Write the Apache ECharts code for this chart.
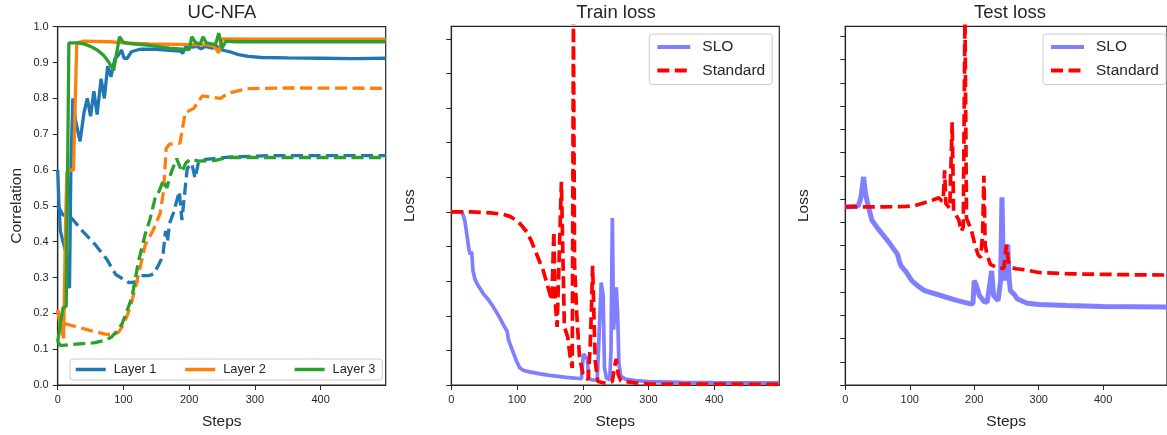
<!DOCTYPE html>
<html>
<head>
<meta charset="utf-8">
<script src="https://cdn.jsdelivr.net/npm/echarts@6/dist/echarts.min.js"></script>
<style>
  html, body { margin: 0; padding: 0; background: #fff; }
  #chart { width: 1167px; height: 435px; }
</style>
</head>
<body>
<div id="chart"></div>
<script>
// panel titles / axis names
var titles = ['UC-NFA', 'Train loss', 'Test loss'];
var stepTicks = [0, 100, 200, 300, 400];

// UC-NFA correlation, [step, value]
var layer1Solid = [[0,0.60],[2,0.50],[4,0.43],[8,0.40],[14,0.36],[18,0.27],[20,0.60],[23,0.80],[27,0.74],[34,0.68],[40,0.76],[45,0.80],[50,0.75],[55,0.82],[60,0.755],[66,0.855],[71,0.80],[76,0.89],[81,0.86],[87,0.91],[92,0.92],[97,0.935],[101,0.912],[106,0.912],[112,0.93],[125,0.937],[150,0.937],[175,0.933],[187,0.932],[190,0.925],[195,0.945],[205,0.943],[212,0.945],[218,0.938],[225,0.945],[235,0.94],[242,0.945],[250,0.935],[262,0.93],[275,0.922],[290,0.917],[310,0.914],[350,0.913],[400,0.912],[450,0.911],[499,0.912]];
var layer2Solid = [[0,0.21],[4,0.17],[9,0.13],[12,0.45],[14,0.595],[20,0.60],[24,0.60],[29,0.955],[40,0.960],[80,0.958],[100,0.955],[140,0.952],[200,0.950],[228,0.949],[238,0.945],[245,0.927],[250,0.966],[300,0.965],[499,0.965]];
var layer3Solid = [[0,0.12],[4,0.17],[8,0.215],[13,0.22],[17,0.955],[30,0.955],[40,0.952],[50,0.945],[60,0.935],[70,0.92],[78,0.90],[85,0.878],[94,0.972],[100,0.956],[110,0.953],[140,0.948],[170,0.94],[200,0.936],[204,0.972],[210,0.955],[217,0.952],[221,0.972],[226,0.955],[240,0.95],[245,0.982],[250,0.94],[256,0.96],[270,0.958],[499,0.958]];
var layer1Dashed = [[0,0.50],[8,0.475],[21,0.466],[40,0.425],[57,0.392],[75,0.35],[88,0.309],[100,0.295],[108,0.286],[120,0.288],[127,0.305],[138,0.305],[146,0.31],[154,0.337],[160,0.36],[164,0.43],[167,0.40],[170,0.45],[176,0.48],[182,0.52],[185,0.54],[189,0.46],[197,0.604],[204,0.618],[209,0.577],[214,0.62],[225,0.63],[260,0.636],[320,0.64],[499,0.64]];
var layer2Dashed = [[0,0.21],[3,0.175],[11,0.171],[30,0.162],[50,0.152],[72,0.142],[86,0.14],[93,0.148],[100,0.168],[107,0.2],[113,0.235],[120,0.285],[133,0.39],[146,0.435],[156,0.48],[161,0.54],[165,0.66],[170,0.672],[186,0.675],[194,0.76],[207,0.772],[220,0.807],[248,0.80],[260,0.815],[288,0.827],[350,0.829],[499,0.828]];
var layer3Dashed = [[0,0.12],[4,0.11],[20,0.113],[57,0.118],[72,0.125],[82,0.134],[90,0.15],[98,0.171],[106,0.21],[113,0.245],[123,0.346],[133,0.42],[140,0.46],[148,0.52],[154,0.54],[161,0.572],[166,0.55],[173,0.595],[181,0.632],[189,0.595],[195,0.62],[202,0.63],[215,0.625],[240,0.627],[258,0.635],[499,0.635]];

// train loss (tick units)
var trainSLO = [[0,5.0],[16,5.0],[19,4.85],[21,4.7],[24,4.3],[27,3.9],[29,3.77],[31,3.85],[33,3.3],[36,3.05],[40,2.9],[49,2.63],[57,2.45],[64,2.25],[72,2.0],[79,1.75],[85,1.55],[87,1.3],[89,1.2],[94,0.95],[99,0.7],[104,0.5],[110,0.42],[119,0.38],[135,0.32],[150,0.28],[175,0.22],[198,0.18],[201,0.9],[204,0.85],[207,0.75],[209,0.2],[214,0.15],[222,0.14],[225,1.5],[228,2.96],[231,2.6],[233,0.5],[236,0.2],[241,0.15],[243,1.0],[245,4.82],[247,1.6],[249,2.2],[251,2.82],[253,2.1],[255,0.6],[258,0.25],[265,0.17],[280,0.13],[300,0.1],[350,0.08],[400,0.07],[499,0.06]];
var trainStandard = [[0,5.0],[30,5.0],[60,4.97],[79,4.93],[89,4.87],[97,4.78],[105,4.65],[115,4.42],[122,4.15],[130,3.77],[140,3.3],[150,2.63],[153,2.44],[156,4.44],[158,2.44],[161,1.68],[167.5,5.87],[172,1.68],[177,1.39],[181,0.8],[184,0.49],[185.8,10.6],[187.5,3.49],[191,2.0],[195,0.82],[200,0.34],[208,0.15],[211,1.0],[213,2.06],[215,3.44],[217,2.0],[219,0.7],[223,0.1],[235,0.05],[245,0.1],[248,0.5],[251,0.75],[254,0.3],[258,0.12],[280,0.06],[300,0.03],[499,0.02]];

// test loss (tick units)
var testSLO = [[0,7.66],[20,7.7],[24,8.03],[28.4,8.95],[31,8.3],[34,7.89],[41,7.1],[50,6.75],[66,6.2],[81,5.62],[84,5.3],[87,5.1],[95,4.84],[103,4.49],[113,4.25],[123,4.06],[148,3.85],[174,3.63],[194,3.49],[198,3.5],[200,4.49],[203,4.3],[208,3.85],[215,3.6],[220,3.55],[225,4.5],[227,4.91],[230,3.85],[237,3.63],[241,4.5],[243,8.07],[245,5.2],[248,4.5],[252,6.04],[254,4.6],[256,4.06],[262,3.9],[267,3.7],[282,3.52],[300,3.46],[343,3.42],[400,3.38],[499,3.35]];
var testStandard = [[0,7.66],[60,7.66],[95,7.68],[108,7.72],[120,7.82],[135,7.95],[145,8.05],[150,7.9],[152,8.0],[154,9.23],[156,7.8],[159,7.74],[162,7.6],[165.8,11.3],[168,7.46],[172,7.3],[176,7.1],[180,6.61],[183,6.8],[185.6,16],[188,7.18],[192,6.9],[196,6.61],[201,6.04],[206,5.6],[210,5.48],[213,6.5],[215,9.0],[217,6.0],[220,5.6],[225,5.19],[235,5.05],[246,5.02],[250,6.04],[253,5.3],[258,5.05],[265,5.0],[280,4.95],[300,4.84],[350,4.78],[400,4.76],[450,4.74],[499,4.73]];

var trainTicks = [0,1,2,3,4,5,6,7,8,9,10];
var testTicks = [0,1,2,3,4,5,6,7,8,9,10,11,12,13,14,15];

var FONT = "'Liberation Sans', Arial, sans-serif";
var INK = '#262626';
var DASH = [12, 5.5];

var chart = echarts.init(document.getElementById('chart'), null, { renderer: 'canvas' });

function xAxisFor(i) {
    return {
        type: 'value', gridIndex: i, min: 0, max: 499,
        name: 'Steps', nameLocation: 'middle', nameGap: 29,
        nameTextStyle: { fontSize: 15.5, color: INK, fontFamily: FONT },
        axisLine: { show: true, lineStyle: { color: INK, width: 1.2 } },
        axisTick: { show: true, length: 5, customValues: stepTicks, lineStyle: { color: INK, width: 1 } },
        axisLabel: { customValues: stepTicks, fontSize: 11, color: INK, margin: 9, fontFamily: FONT },
        splitLine: { show: false }
    };
}

function lineSeries(name, data, xi, color, dashed, width) {
    return {
        name: name, type: 'line', xAxisIndex: xi, yAxisIndex: xi,
        data: data, symbol: 'none', clip: true,
        lineStyle: { color: color, width: width || 3.3, type: dashed ? DASH : 'solid', cap: 'butt' },
        itemStyle: { color: color }
    };
}

// legend: only the line, no marker dot
var legendBase = {
    backgroundColor: 'rgba(255,255,255,0.8)', borderColor: '#cccccc', borderWidth: 1, borderRadius: 3,
    itemStyle: { opacity: 0 }
};

var titleStyle = { fontSize: 18.5, fontWeight: 'normal', color: INK, fontFamily: FONT };

var option = {
    animation: false,
    textStyle: { fontFamily: FONT },
    title: [
        { text: titles[0], left: 222, top: 3, textAlign: 'center', padding: 0, textStyle: titleStyle },
        { text: titles[1], left: 616, top: 3, textAlign: 'center', padding: 0, textStyle: titleStyle },
        { text: titles[2], left: 1010, top: 3, textAlign: 'center', padding: 0, textStyle: titleStyle }
    ],
    grid: [
        { left: 57.7, top: 26.7, width: 328, height: 362, show: true, borderColor: INK, borderWidth: 1.2, backgroundColor: 'transparent' },
        { left: 451.3, top: 26.3, width: 328, height: 362.4, show: true, borderColor: INK, borderWidth: 1.2, backgroundColor: 'transparent' },
        { left: 845.3, top: 26.3, width: 330, height: 362.4, show: true, borderColor: INK, borderWidth: 1.2, backgroundColor: 'transparent' }
    ],
    xAxis: [xAxisFor(0), xAxisFor(1), xAxisFor(2)],
    yAxis: [
        {
            type: 'value', gridIndex: 0, min: 0, max: 1, interval: 0.1,
            name: 'Correlation', nameLocation: 'middle', nameGap: 33,
            nameTextStyle: { fontSize: 15.5, color: INK, fontFamily: FONT },
            axisLine: { show: true, lineStyle: { color: INK, width: 1.2 } },
            axisTick: { show: true, length: 5, lineStyle: { color: INK, width: 1 } },
            axisLabel: { fontSize: 11, color: INK, margin: 9, fontFamily: FONT, formatter: function (v) { return v.toFixed(1); } },
            splitLine: { show: false }
        },
        {
            type: 'value', gridIndex: 1, min: 0, max: 10.36,
            name: 'Loss', nameLocation: 'middle', nameGap: 34,
            nameTextStyle: { fontSize: 15.5, color: INK, fontFamily: FONT },
            axisLine: { show: true, lineStyle: { color: INK, width: 1.2 } },
            axisTick: { show: true, length: 5, customValues: trainTicks, lineStyle: { color: INK, width: 1 } },
            axisLabel: { show: false },
            splitLine: { show: false }
        },
        {
            type: 'value', gridIndex: 2, min: 0, max: 15.43,
            name: 'Loss', nameLocation: 'middle', nameGap: 34,
            nameTextStyle: { fontSize: 15.5, color: INK, fontFamily: FONT },
            axisLine: { show: true, lineStyle: { color: INK, width: 1.2 } },
            axisTick: { show: true, length: 5, customValues: testTicks, lineStyle: { color: INK, width: 1 } },
            axisLabel: { show: false },
            splitLine: { show: false }
        }
    ],
    legend: [
        Object.assign({}, legendBase, {
            data: ['Layer 1', 'Layer 2', 'Layer 3'], orient: 'horizontal', left: 70, top: 359,
            padding: [4, 7, 4, 4], itemWidth: 30, itemHeight: 12, itemGap: 27,
            lineStyle: { width: 3.5 },
            textStyle: { fontSize: 12.8, color: INK, fontFamily: FONT, padding: [0, 0, 0, 3] }
        }),
        Object.assign({}, legendBase, {
            data: ['SLO', 'Standard'], orient: 'vertical', left: 649.3, top: 34,
            padding: [5, 7, 6, 6], itemWidth: 33, itemHeight: 14, itemGap: 7.5,
            lineStyle: { width: 4 },
            textStyle: { fontSize: 15.5, color: INK, fontFamily: FONT, padding: [0, 0, 0, 7] }
        }),
        Object.assign({}, legendBase, {
            data: ['SLO', 'Standard'], orient: 'vertical', left: 1043, top: 34,
            padding: [5, 7, 6, 6], itemWidth: 33, itemHeight: 14, itemGap: 7.5,
            lineStyle: { width: 4 },
            textStyle: { fontSize: 15.5, color: INK, fontFamily: FONT, padding: [0, 0, 0, 7] }
        })
    ],
    series: [
        lineSeries('Layer 1', layer1Solid, 0, '#1f77b4', false),
        lineSeries('Layer 1 dashed', layer1Dashed, 0, '#1f77b4', true),
        lineSeries('Layer 2', layer2Solid, 0, '#ff7f0e', false),
        lineSeries('Layer 2 dashed', layer2Dashed, 0, '#ff7f0e', true),
        lineSeries('Layer 3', layer3Solid, 0, '#2ca02c', false),
        lineSeries('Layer 3 dashed', layer3Dashed, 0, '#2ca02c', true),
        lineSeries('SLO', trainSLO, 1, '#7f7fff', false, 3.7),
        lineSeries('Standard', trainStandard, 1, '#ff0000', true, 3.7),
        lineSeries('SLO', testSLO, 2, '#7f7fff', false, 5),
        lineSeries('Standard', testStandard, 2, '#ff0000', true, 3.7)
    ]
};

chart.setOption(option);
</script>
</body>
</html>
